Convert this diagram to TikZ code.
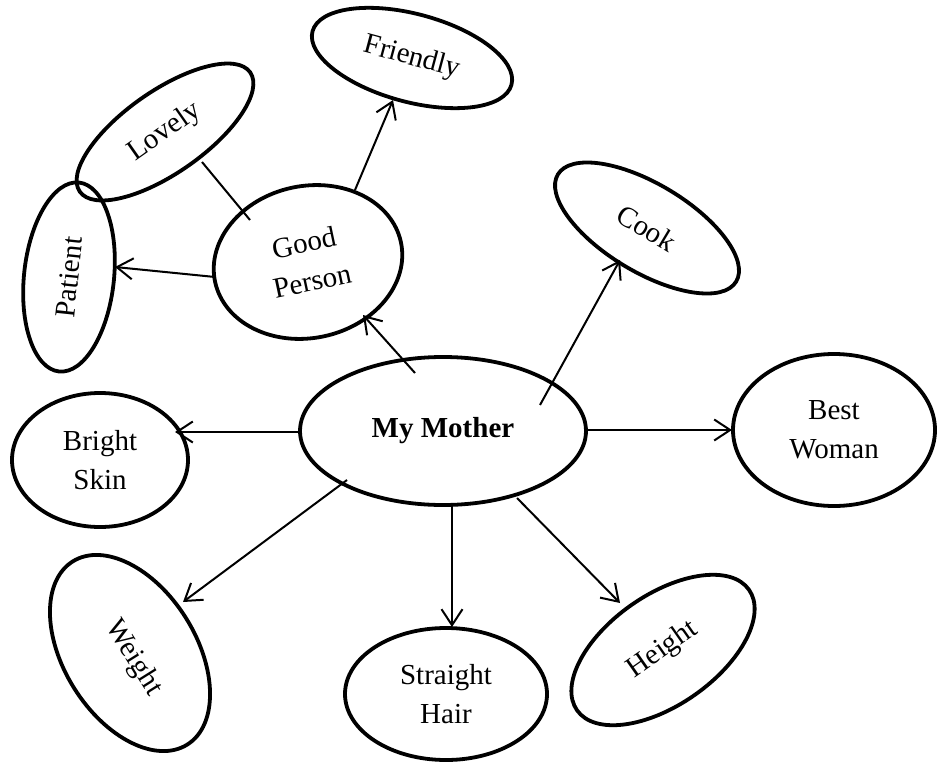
\documentclass[tikz,border=0pt]{standalone}
\usepackage{fontspec}
\setmainfont{Liberation Serif}
\usetikzlibrary{arrows.meta,calc,shapes.geometric}
\begin{document}
\begin{tikzpicture}[x=1pt,y=-1pt,
  bub/.style={draw=black,line width=3.8pt,ellipse,inner sep=0pt,align=center,
    font=\fontsize{29}{39}\selectfont},
  arr/.style={line width=2pt,-{Straight Barb[length=16pt,width=21pt,line width=2pt]}},
  lnk/.style={line width=2pt}]
\useasboundingbox (0,0) rectangle (941,762);
\node[bub,minimum width=286pt,minimum height=148pt] (mm) at (443,431) {\raisebox{4pt}{\bfseries My Mother}};
\node[bub,minimum width=202pt,minimum height=152pt] (bw) at (834,430) {Best\\Woman};
\node[bub,minimum width=176pt,minimum height=134pt] (bs) at (100,460) {Bright\\Skin};
\node[bub,minimum width=216pt,minimum height=132pt,rotate=-58] (wt) at (130,653) {\hspace*{12pt}Weight};
\node[bub,minimum width=202pt,minimum height=132pt] (sh) at (446,694) {Straight\\Hair};
\node[bub,minimum width=210pt,minimum height=110pt,rotate=35] (ht) at (663,650) {Height};
\node[bub,minimum width=208pt,minimum height=88pt,rotate=-31] (ck) at (647,228) {Cook};
\node[bub,minimum width=206pt,minimum height=88pt,rotate=-15] (fr) at (412,58) {Friendly};
\node[bub,minimum width=208pt,minimum height=82pt,rotate=35] (lv) at (165,132) {Lovely};
\node[bub,minimum width=190pt,minimum height=90pt,rotate=84] (pt) at (69,277) {Patient};
\node[bub,minimum width=190pt,minimum height=152pt,rotate=12] (gp) at (308,262) {Good\\Person};
\draw[arr] ($(mm)+(-28,-58)$) -- ($(gp)+(55,53)$);
\draw[arr] ($(mm)+(97,-26)$) -- ($(ck)+(-27,32)$);
\draw[arr] ($(mm)+(143,-1)$) -- ($(bw)+(-102,0)$);
\draw[arr] ($(mm)+(-143,1)$) -- ($(bs)+(75,-28)$);
\draw[arr] ($(mm)+(-96,49)$) -- ($(wt)+(53,-51)$);
\draw[arr] ($(mm)+(9,74)$) -- ($(sh)+(6,-67)$);
\draw[arr] ($(mm)+(74,67)$) -- ($(ht)+(-43,-47)$);
\draw[arr] ($(gp)+(47,-72)$) -- ($(fr)+(-19,42)$);
\draw[arr] ($(gp)+(-93,15)$) -- ($(pt)+(46,-10)$);
\draw[lnk] ($(lv)+(37,30)$) -- ($(gp)+(-58,-42)$);
\end{tikzpicture}
\end{document}
